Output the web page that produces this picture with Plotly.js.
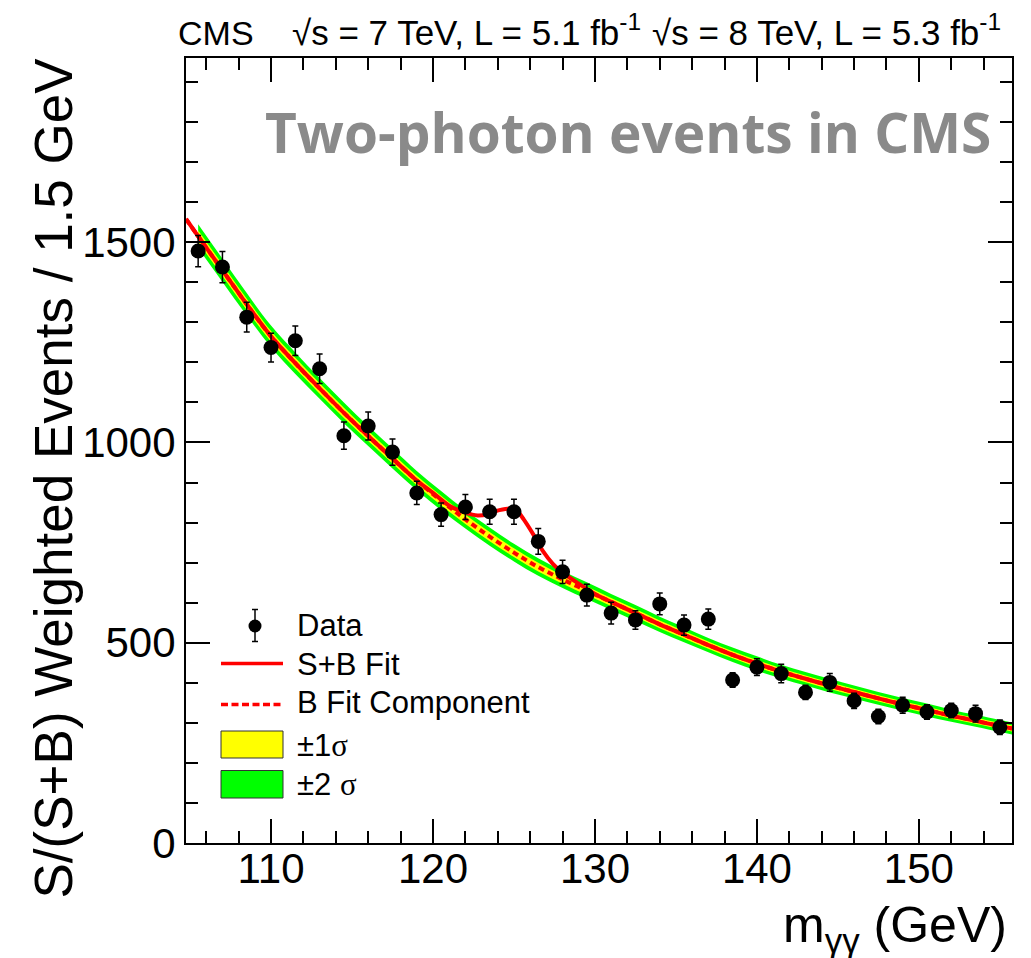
<!DOCTYPE html>
<html><head><meta charset="utf-8">
<script src="https://cdn.plot.ly/plotly-3.0.1.min.js"></script>
<style>html,body{margin:0;padding:0;background:#fff;}#chart{width:1031px;height:958px;}</style>
</head><body><div id="chart"></div>
<script>
// ---- data ----
const massBins = [105.5,107,108.5,110,111.5,113,114.5,116,117.5,119,120.5,122,123.5,125,126.5,128,129.5,131,132.5,134,135.5,137,138.5,140,141.5,143,144.5,146,147.5,149,150.5,152,153.5,155];
const weightedEvents = [1478,1438,1313,1237,1254,1184,1017,1041,976,874,820,839,827,827,753,677,619,574,557,597,544,559,407,439,423,376,401,355,316,344,327,331,323,289];
const eventErrors = [39,39,37,36,37,37,34,35,33,29,29,31,31,31,32,29,27,27,23,27,25,25,18,21,23,18,22,19,18,20,18,18,21,18];

const bkgMass = [104.75,105.5,107,108.5,110,111.5,113,114.5,116,117.5,119,120.5,122,123.5,125,126.5,128,129.5,131,132.5,134,135.5,137,138.5,140,141.5,143,144.5,146,147.5,149,150.5,152,153.5,155,155.75];
const bkgFit = [1558,1515,1430,1345,1265,1198,1135,1074,1016,960,905,855,808,765,725,689,658,630,602,574,546,520,494,470,448,428,410,393,377,361,346,332,318,305,292,286];
// band half-widths (from 105.5 GeV onwards)
const band1Sigma = [15,14.5,14,13.5,13.5,13,13,12.5,12.5,12,12,11.5,11.5,11,11,10.5,10.5,10,10,9.5,9.5,9,9,9,8.5,8.5,8.5,8,8,8,8,7.5,7.5,7.5,7.5];
const band2Sigma = [30,29,28,27,27,26,26,25,25,24,24,23,23,22,22,21,21,20,20,19,19,18,18,18,17,17,17,16,16,16,16,15,15,15,15];

const sbMass = [104.75,105.5,107,108.5,110,111.5,113,114.5,116,117.5,119,120,121,122,122.75,123.4,124.1,124.8,125.2,125.6,126.2,126.8,127.4,128,128.9,130,131,132.5,134,135.5,137,138.5,140,141.5,143,144.5,146,147.5,149,150.5,152,153.5,155,155.75];
const sbFit = [1558,1515,1430,1345,1265,1198,1135,1074,1016,960,905,874,842,825,818,821,831,835,829,808,770,728,697,675,650,622,602,574,546,520,494,470,448,428,410,393,377,361,346,332,318,305,292,286];

const xTickVals = [110,120,130,140,150];
const yTickVals = [0,500,1000,1500];
const legendLabels = ['Data','S+B Fit','B Fit Component','±1<span style="font-family:Liberation Serif">σ</span>','±2 <span style="font-family:Liberation Serif">σ</span>'];

// ---- geometry helpers (pixel -> paper) ----
const W = 1031, H = 958, ML = 186, MR = 19, MT = 58, MB = 115;
const PW = W - ML - MR, PH = H - MT - MB;
const px = v => (v - ML) / PW;
const py = v => (H - MB - v) / PH;

const bandMass = bkgMass.slice(1);
const bandCenter = bkgFit.slice(1);
const FONT = 'Liberation Sans, Arial, Helvetica, sans-serif';

function bandTrace(sign, widths, fill, color) {
  return {
    x: bandMass, y: bandCenter.map((b, i) => b + sign * widths[i]),
    type: 'scatter', mode: 'lines', line: {width: 0, shape: 'spline', color: color},
    fill: fill, fillcolor: color, hoverinfo: 'skip', showlegend: false
  };
}

const traces = [
  bandTrace(-1, band2Sigma, 'none', '#00ff00'),
  bandTrace(+1, band2Sigma, 'tonexty', '#00ff00'),
  bandTrace(-1, band1Sigma, 'none', '#ffff00'),
  bandTrace(+1, band1Sigma, 'tonexty', '#ffff00'),
  {x: bkgMass, y: bkgFit, type: 'scatter', mode: 'lines', name: 'B Fit Component',
   line: {color: '#ff0000', width: 4, dash: '6px,4px', shape: 'spline'}, showlegend: false},
  {x: sbMass, y: sbFit, type: 'scatter', mode: 'lines', name: 'S+B Fit',
   line: {color: '#ff0000', width: 4, shape: 'spline', smoothing: 0.7}, showlegend: false},
  {x: massBins, y: weightedEvents, type: 'scatter', mode: 'markers', name: 'Data',
   marker: {color: '#000', size: 15},
   error_y: {type: 'data', array: eventErrors, visible: true, color: '#000', thickness: 1.5, width: 3},
   showlegend: false}
];

const axisCommon = {
  showgrid: false, zeroline: false, showline: true, linecolor: '#000', linewidth: 2,
  mirror: 'ticks', ticks: 'inside', ticklen: 24, tickwidth: 2, tickcolor: '#000',
  tickfont: {family: FONT, size: 42, color: '#000'}
};

const shapes = [
  // legend: data marker with error bar
  {type: 'line', xref: 'paper', yref: 'paper', x0: px(255), x1: px(255), y0: py(609.5), y1: py(641.5), line: {color: '#000', width: 1.5}},
  {type: 'line', xref: 'paper', yref: 'paper', x0: px(252), x1: px(258), y0: py(609.5), y1: py(609.5), line: {color: '#000', width: 1.5}},
  {type: 'line', xref: 'paper', yref: 'paper', x0: px(252), x1: px(258), y0: py(641.5), y1: py(641.5), line: {color: '#000', width: 1.5}},
  {type: 'circle', xref: 'paper', yref: 'paper', x0: px(248.5), x1: px(261.5), y0: py(632.5), y1: py(619.5), fillcolor: '#000', line: {color: '#000', width: 0}},
  // legend: S+B line
  {type: 'line', xref: 'paper', yref: 'paper', x0: px(221), x1: px(283), y0: py(663.5), y1: py(663.5), line: {color: '#ff0000', width: 3.5}},
  // legend: B dashed
  {type: 'line', xref: 'paper', yref: 'paper', x0: px(221), x1: px(283), y0: py(704.5), y1: py(704.5), line: {color: '#ff0000', width: 3.5, dash: '7px,3.5px'}},
  // legend boxes
  {type: 'rect', xref: 'paper', yref: 'paper', x0: px(221), x1: px(283), y0: py(758), y1: py(731), fillcolor: '#ffff00', line: {color: '#333', width: 1}},
  {type: 'rect', xref: 'paper', yref: 'paper', x0: px(221), x1: px(283), y0: py(798), y1: py(770.5), fillcolor: '#00ff00', line: {color: '#333', width: 1}}
];

const legendY = [625.5, 664.5, 702, 745, 784];
const annotations = legendLabels.map((t, i) => ({
  text: t, xref: 'paper', yref: 'paper', x: px(295), y: py(legendY[i]),
  xanchor: 'left', yanchor: 'middle', showarrow: false,
  font: {family: FONT, size: 31, color: '#000'}
}));

annotations.push(
  {text: 'CMS', xref: 'paper', yref: 'paper', x: px(176), y: py(54), xanchor: 'left', yanchor: 'bottom',
   showarrow: false, font: {family: FONT, size: 34, color: '#000'}},
  {text: '√s = 7 TeV, L = 5.1 fb<sup>-1</sup>', xref: 'paper', yref: 'paper', x: px(290), y: py(54), xanchor: 'left', yanchor: 'bottom',
   showarrow: false, font: {family: FONT, size: 35, color: '#000'}},
  {text: '√s = 8 TeV, L = 5.3 fb<sup>-1</sup>', xref: 'paper', yref: 'paper', x: px(650), y: py(54), xanchor: 'left', yanchor: 'bottom',
   showarrow: false, font: {family: FONT, size: 35, color: '#000'}},
  {text: '<b>Two-photon events in CMS</b>', xref: 'paper', yref: 'paper', x: px(628), y: py(131), xanchor: 'center', yanchor: 'middle',
   showarrow: false, font: {family: 'Open Sans, sans-serif', size: 55, color: '#8a8a8a'}},
  {text: 'm<sub>γγ</sub> (GeV)', xref: 'paper', yref: 'paper', x: px(1009), y: py(895), xanchor: 'right', yanchor: 'top',
   showarrow: false, font: {family: FONT, size: 50, color: '#000'}},
  {text: 'S/(S+B) Weighted Events / 1.5 GeV', xref: 'paper', yref: 'paper', x: px(53), y: py(56), xanchor: 'center', yanchor: 'top',
   textangle: -90, showarrow: false, font: {family: FONT, size: 53, color: '#000'}}
);

const layout = {
  width: W, height: H,
  margin: {l: ML, r: MR, t: MT, b: MB, pad: 0},
  paper_bgcolor: '#fff', plot_bgcolor: '#fff',
  showlegend: false,
  xaxis: Object.assign({}, axisCommon, {
    range: [104.75, 155.75], tickvals: xTickVals, ticktext: xTickVals.map(String),
    ticklabelstandoff: -12,
    minor: {dtick: 2, tick0: 0, ticks: 'inside', ticklen: 12, tickwidth: 2, tickcolor: '#000', showgrid: false}
  }),
  yaxis: Object.assign({}, axisCommon, {
    range: [0, 1960], tickvals: yTickVals, ticktext: yTickVals.map(String),
    minor: {dtick: 100, tick0: 0, ticks: 'inside', ticklen: 12, tickwidth: 2, tickcolor: '#000', showgrid: false}
  }),
  shapes: shapes,
  annotations: annotations
};

Plotly.newPlot('chart', traces, layout, {displayModeBar: false, staticPlot: true});
</script>
</body></html>
